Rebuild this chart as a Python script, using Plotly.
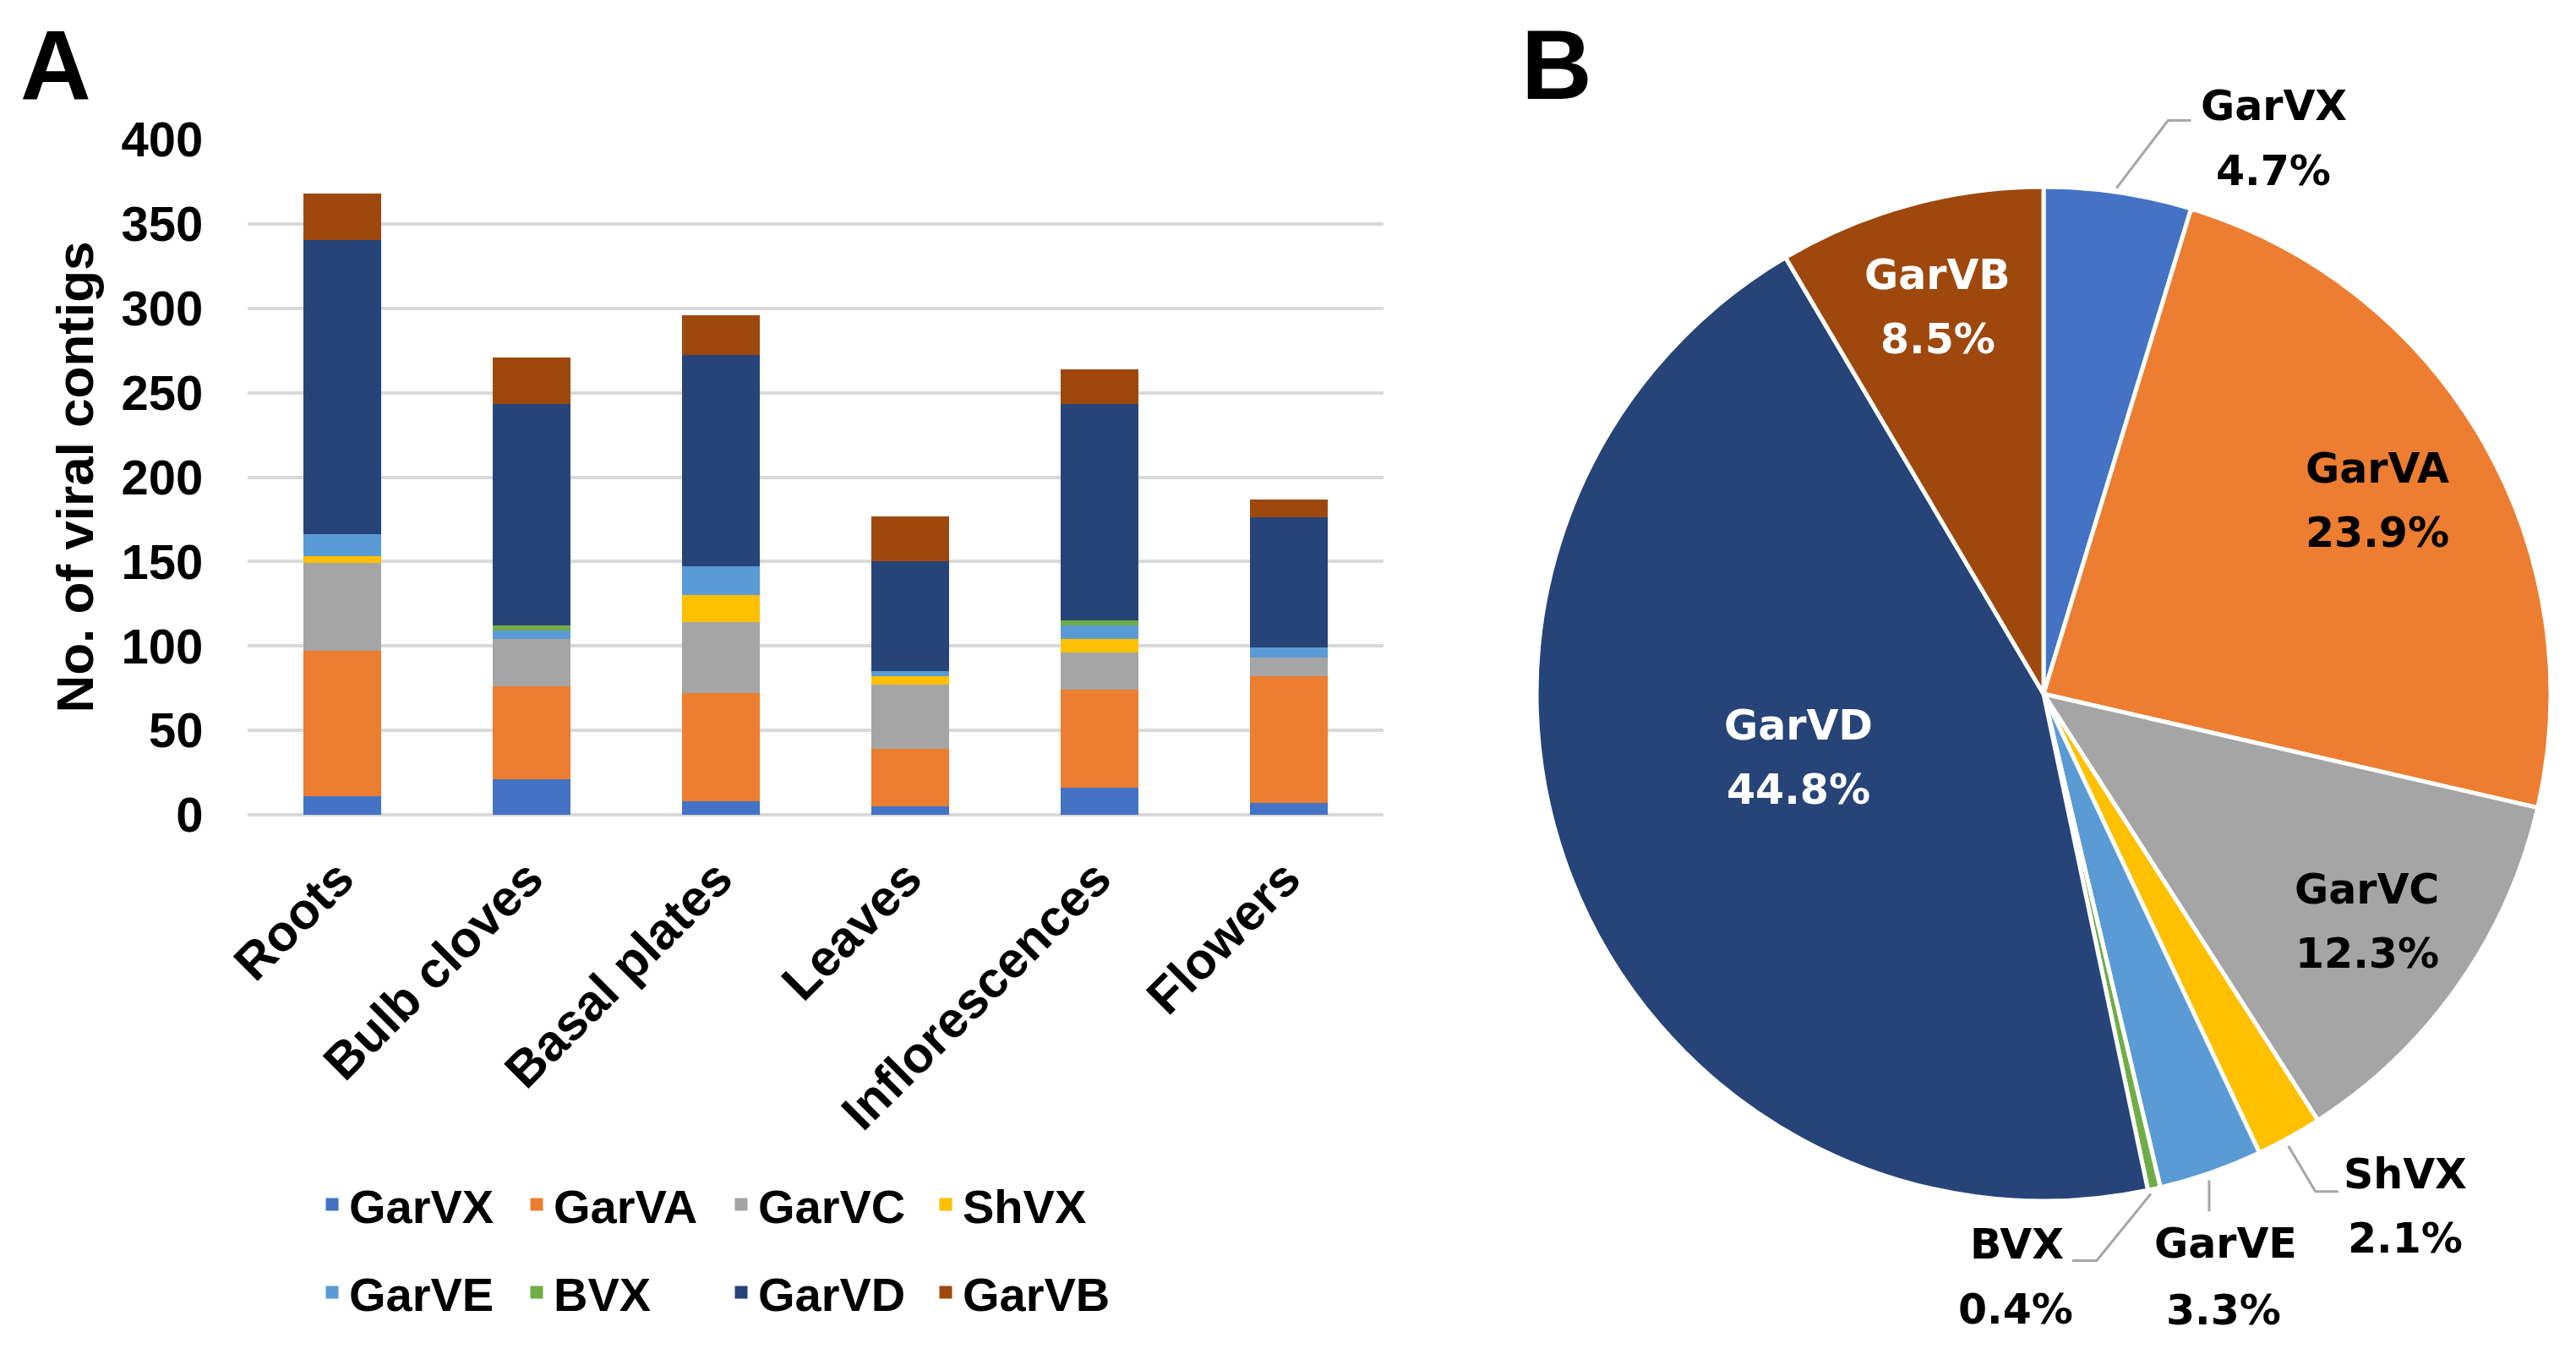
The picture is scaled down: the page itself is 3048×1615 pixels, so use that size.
import math
import plotly.graph_objects as go

# ---------------- data ----------------
categories = ["Roots", "Bulb cloves", "Basal plates", "Leaves", "Inflorescences", "Flowers"]
viruses = ["GarVX", "GarVA", "GarVC", "ShVX", "GarVE", "BVX", "GarVD", "GarVB"]
colors = ["#4472C4", "#ED7D31", "#A5A5A5", "#FFC000", "#5B9BD5", "#70AD47", "#264478", "#9E480E"]

garvx = [12, 22, 9, 6, 17, 8]
garva = [86, 55, 64, 34, 58, 75]
garvc = [52, 28, 42, 38, 22, 11]
shvx = [4, 0, 16, 5, 8, 0]
garve = [13, 5, 17, 3, 8, 6]
bvx = [0, 3, 0, 0, 3, 0]
garvd = [174, 131, 125, 65, 128, 77]
garvb = [26, 26, 22, 25, 19, 9]
bar_series = [garvx, garva, garvc, shvx, garve, bvx, garvd, garvb]

pie_pct = [4.7, 23.9, 12.3, 2.1, 3.3, 0.4, 44.8, 8.5]
y_ticks = [0, 50, 100, 150, 200, 250, 300, 350, 400]

# ---------------- geometry helpers (screen pixels -> paper) ----------------
W, H = 3048, 1615
BODY = 8  # default page margin around the plot div


def px(x):
    return (x - BODY) / W


def py(y):
    return 1 - (y - BODY) / H


AFONT = "Liberation Sans"
PFONT = "DejaVu Sans"

fig = go.Figure()

for i, (name, vals) in enumerate(zip(viruses, bar_series)):
    fig.add_trace(go.Bar(
        x=categories, y=vals, name=name,
        marker=dict(color=colors[i], line=dict(width=3, color=colors[i])),
        legend="legend" if i < 4 else "legend2",
    ))

# ---------------- pie ----------------
PIE_CX, PIE_CY, PIE_R = 2418, 821, 600
fig.add_trace(go.Pie(
    labels=viruses, values=pie_pct, sort=False, direction="clockwise", rotation=0,
    marker=dict(colors=colors, line=dict(color="white", width=5)),
    textinfo="none", showlegend=False,
    domain=dict(x=[px(PIE_CX - PIE_R), px(PIE_CX + PIE_R)],
                y=[py(PIE_CY + PIE_R), py(PIE_CY - PIE_R)]),
))

total = sum(pie_pct)
mids = []
acc = 0.0
for p in pie_pct:
    mids.append(2 * math.pi * (acc + p / 2) / total)
    acc += p


def polar(theta, rad):
    return PIE_CX + rad * math.sin(theta), PIE_CY - rad * math.cos(theta)


annotations = []
shapes = []
PSIZE = 49

# name: (radius fraction, colour, angle tweak in degrees)
inside = {"GarVA": (0.76, "black", 0), "GarVC": (0.78, "black", 0),
          "GarVD": (0.50, "white", 6.7), "GarVB": (0.79, "white", 0)}
LINE_HALF = 38
for name, (frac, col, tweak) in inside.items():
    i = viruses.index(name)
    cx, cy = polar(mids[i] + math.radians(tweak), frac * PIE_R)
    for txt, dy in ((name, -LINE_HALF), (f"{pie_pct[i]:.1f}%", LINE_HALF)):
        annotations.append(dict(x=px(cx), y=py(cy + dy), xref="paper", yref="paper",
                                text=txt, showarrow=False,
                                font=dict(family=PFONT, size=PSIZE, color=col, weight="bold"),
                                xanchor="center", yanchor="middle"))

outside = {
    "GarVX": dict(path=[(-2, -5), (59, -85), (86, -85)], t1=(184, -102), t2=(184, -25)),
    "ShVX": dict(path=[(-1, 10), (31, 64), (58, 64)], t1=(137, 44), t2=(137, 120)),
    "GarVE": dict(path=[(-2, 9), (-2, 46)], t1=(18, 84), t2=(15, 163)),
    "BVX": dict(path=[(-4, 6), (-68, 85), (-97, 85)], t1=(-162, 66), t2=(-164, 143)),
}
for name, cfg in outside.items():
    i = viruses.index(name)
    ex, ey = polar(mids[i], PIE_R)
    pts = [(px(ex + dx), py(ey + dy)) for dx, dy in cfg["path"]]
    path = "M " + " L ".join(f"{a:.5f},{b:.5f}" for a, b in pts)
    shapes.append(dict(type="path", path=path, xref="paper", yref="paper",
                       line=dict(color="#A6A6A6", width=3)))
    for txt, (dx, dy) in ((name, cfg["t1"]), (f"{pie_pct[i]:.1f}%", cfg["t2"])):
        annotations.append(dict(x=px(ex + dx), y=py(ey + dy), xref="paper", yref="paper",
                                text=txt, showarrow=False,
                                font=dict(family=PFONT, size=PSIZE, color="black", weight="bold"),
                                xanchor="center", yanchor="middle"))

# panel letters
for letter, (lx, ly) in (("A", (66, 78)), ("B", (1842, 77))):
    annotations.append(dict(x=px(lx), y=py(ly), xref="paper", yref="paper", text=letter,
                            showarrow=False, xanchor="center", yanchor="middle",
                            font=dict(family=AFONT, size=116, color="black", weight="bold")))

legend_common = dict(orientation="h", xanchor="left", yanchor="middle",
                     font=dict(family=AFONT, size=56, color="black", weight="bold"),
                     entrywidth=197, entrywidthmode="pixels", bgcolor="rgba(0,0,0,0)",
                     traceorder="normal", borderwidth=0)

fig.update_layout(
    width=W, height=H, margin=dict(l=0, r=0, t=0, b=0, pad=0, autoexpand=False),
    paper_bgcolor="white", plot_bgcolor="white",
    barmode="stack", bargap=0.6,
    xaxis=dict(domain=[px(293), px(1637)], tickangle=-45, automargin=False,
               tickfont=dict(family=AFONT, size=60, color="black", weight="bold"),
               ticks="outside", ticklen=15, tickcolor="rgba(0,0,0,0)", ticklabelshift=-4,
               showgrid=False, zeroline=False, showline=False),
    yaxis=dict(domain=[py(964), py(165)], range=[0, 400], tickvals=y_ticks, automargin=False,
               tickfont=dict(family=AFONT, size=58, color="black", weight="bold"),
               ticks="outside", ticklen=40, tickcolor="rgba(0,0,0,0)",
               showgrid=True, gridcolor="#D9D9D9", gridwidth=4,
               zeroline=True, zerolinecolor="#D9D9D9", zerolinewidth=4, showline=False,
               title=dict(text="No. of viral contigs", standoff=12,
                          font=dict(family=AFONT, size=62, color="black", weight="bold"))),
    legend=dict(x=px(373), y=py(1425), **legend_common),
    legend2=dict(x=px(373), y=py(1529), **legend_common),
    annotations=annotations, shapes=shapes,
)

fig.write_html("out.html")
